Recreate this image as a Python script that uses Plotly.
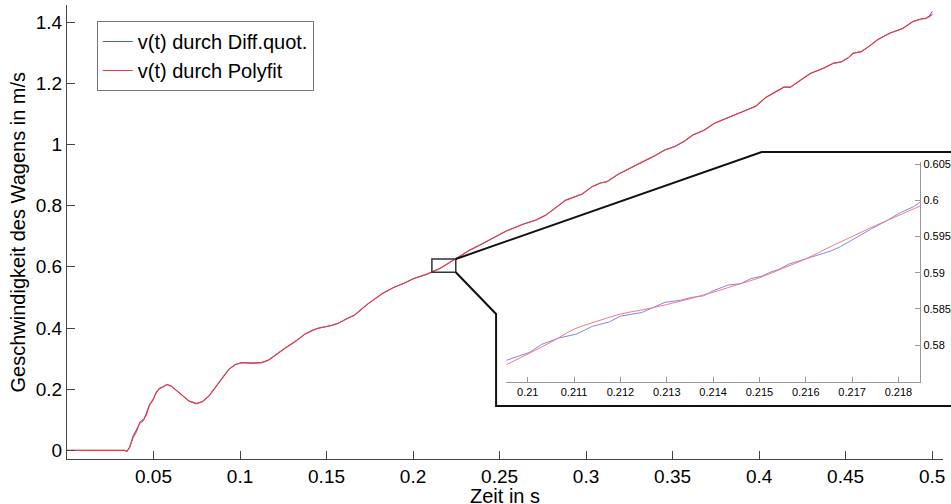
import plotly.graph_objects as go

# ---------------- data ----------------
t_main = [0.0, 0.0334, 0.0347, 0.0363, 0.0382, 0.0401, 0.0420, 0.0443, 0.0458, 0.0477,
          0.0496, 0.0515, 0.0534, 0.0557, 0.0578, 0.0601, 0.0630, 0.0668, 0.0706, 0.0748,
          0.0782, 0.0821, 0.0859, 0.0897, 0.0935, 0.0974, 0.1011, 0.1069, 0.1126, 0.1164,
          0.1203, 0.1260, 0.1317, 0.1375, 0.1422, 0.1451, 0.1527, 0.1565, 0.1623, 0.1661,
          0.1737, 0.1823, 0.1890, 0.1947, 0.2005, 0.2081, 0.2157, 0.2253, 0.2329, 0.2386,
          0.2463, 0.2539, 0.2635, 0.2711, 0.2768, 0.2825, 0.2883, 0.2978, 0.3035, 0.3083,
          0.3120, 0.3188, 0.3265, 0.3341, 0.3398, 0.3455, 0.3513, 0.3570, 0.3617, 0.3684,
          0.3742, 0.3809, 0.3866, 0.3923, 0.3981, 0.4038, 0.4095, 0.4143, 0.4181, 0.4238,
          0.4296, 0.4372, 0.4429, 0.4477, 0.4515, 0.4543, 0.4591, 0.4639, 0.4687, 0.4754,
          0.4830, 0.4887, 0.4935, 0.4963, 0.4983, 0.5002]

v_poly = [0.0, 0.0, -0.003, 0.012, 0.043, 0.061, 0.091, 0.102, 0.116, 0.148,
          0.165, 0.187, 0.203, 0.208, 0.216, 0.210, 0.197, 0.178, 0.161, 0.153,
          0.159, 0.178, 0.206, 0.236, 0.265, 0.281, 0.287, 0.285, 0.287, 0.295,
          0.312, 0.334, 0.355, 0.380, 0.393, 0.399, 0.408, 0.415, 0.432, 0.442,
          0.478, 0.513, 0.533, 0.546, 0.562, 0.576, 0.595, 0.628, 0.655, 0.671,
          0.693, 0.717, 0.739, 0.753, 0.769, 0.794, 0.818, 0.838, 0.862, 0.874,
          0.878, 0.903, 0.924, 0.947, 0.963, 0.982, 0.993, 1.011, 1.031, 1.047,
          1.069, 1.085, 1.098, 1.112, 1.125, 1.153, 1.172, 1.187, 1.187, 1.208,
          1.232, 1.249, 1.265, 1.270, 1.283, 1.298, 1.303, 1.322, 1.343, 1.363,
          1.379, 1.401, 1.410, 1.412, 1.417, 1.425]

v_diff = [0.0, 0.0, -0.003, 0.010, 0.047, 0.066, 0.088, 0.098, 0.121, 0.150,
          0.163, 0.190, 0.201, 0.209, 0.215, 0.211, 0.197, 0.178, 0.161, 0.153,
          0.159, 0.178, 0.206, 0.236, 0.265, 0.281, 0.287, 0.285, 0.287, 0.295,
          0.312, 0.334, 0.355, 0.380, 0.393, 0.399, 0.408, 0.415, 0.432, 0.442,
          0.478, 0.513, 0.533, 0.546, 0.562, 0.576, 0.595, 0.628, 0.655, 0.671,
          0.693, 0.717, 0.739, 0.753, 0.769, 0.794, 0.818, 0.838, 0.862, 0.874,
          0.878, 0.903, 0.924, 0.947, 0.963, 0.982, 0.993, 1.011, 1.031, 1.047,
          1.069, 1.085, 1.098, 1.112, 1.125, 1.153, 1.172, 1.187, 1.187, 1.208,
          1.232, 1.249, 1.265, 1.270, 1.283, 1.298, 1.303, 1.322, 1.343, 1.363,
          1.379, 1.401, 1.410, 1.412, 1.419, 1.435]

inset_t_diff = [0.20954, 0.21004, 0.2103, 0.21068, 0.21104, 0.2114, 0.21176, 0.212, 0.21246,
                0.21296, 0.2133, 0.21354, 0.21379, 0.214, 0.21432, 0.2146, 0.21482, 0.21504,
                0.21525, 0.21543, 0.21564, 0.216, 0.21625, 0.21654, 0.21675, 0.21704, 0.2174,
                0.21775, 0.21804, 0.21832, 0.2185]
inset_v_diff = [0.5779, 0.5790, 0.5801, 0.5810, 0.5815, 0.5826, 0.5832, 0.5840, 0.5845,
                0.5859, 0.5862, 0.5866, 0.5868, 0.5875, 0.5883, 0.5885, 0.5892, 0.5895,
                0.5901, 0.5905, 0.5912, 0.5919, 0.5924, 0.5930, 0.5936, 0.5947, 0.5960,
                0.5972, 0.5983, 0.5991, 0.5999]

inset_t_poly = [0.20954, 0.2105, 0.211, 0.2115, 0.212, 0.2125, 0.213, 0.2135, 0.214,
                0.2145, 0.215, 0.2155, 0.216, 0.2165, 0.217, 0.2175, 0.218, 0.2185]
inset_v_poly = [0.5773, 0.5804, 0.5822, 0.5833, 0.5843, 0.5849, 0.5856, 0.5864, 0.5873,
                0.5883, 0.5893, 0.5906, 0.5919, 0.5935, 0.5950, 0.5965, 0.5979, 0.5993]

x_ticks = [0.05, 0.1, 0.15, 0.2, 0.25, 0.3, 0.35, 0.4, 0.45, 0.5]
x_ticklabels = ["0.05", "0.1", "0.15", "0.2", "0.25", "0.3", "0.35", "0.4", "0.45", "0.5"]
y_ticks = [0, 0.2, 0.4, 0.6, 0.8, 1.0, 1.2, 1.4]
y_ticklabels = ["0", "0.2", "0.4", "0.6", "0.8", "1", "1.2", "1.4"]
ix_ticks = [0.21, 0.211, 0.212, 0.213, 0.214, 0.215, 0.216, 0.217, 0.218]
ix_ticklabels = ["0.21", "0.211", "0.212", "0.213", "0.214", "0.215", "0.216", "0.217", "0.218"]
iy_ticks = [0.58, 0.585, 0.59, 0.595, 0.6, 0.605]
iy_ticklabels = ["0.58", "0.585", "0.59", "0.595", "0.6", "0.605"]

zoom_box_t = [0.2109, 0.2247]
zoom_box_v = [0.582, 0.6255]

# ---------------- layout constants ----------------
W, H = 951, 504
ML, MR, MT, MB = 67, 0, 5, 45
PW, PH = W - ML - MR, H - MT - MB
XR = [0.0, 0.5063]
YR = [-0.0281, 1.4556]

def px2paper_x(px):
    return (px - ML) / PW

def py2paper_y(py):
    return (H - MB - py) / PH

def data2paper_x(x):
    return (x - XR[0]) / (XR[1] - XR[0])

def data2paper_y(y):
    return (y - YR[0]) / (YR[1] - YR[0])

BLUE = "#4a55e0"
RED = "#ee3a3c"
FONT = "Liberation Sans, Arial, sans-serif"

fig = go.Figure()
fig.add_trace(go.Scatter(x=t_main, y=v_diff, mode="lines", name="v(t) durch Diff.quot.",
                         line=dict(color=BLUE, width=1.0)))
fig.add_trace(go.Scatter(x=t_main, y=v_poly, mode="lines", name="v(t) durch Polyfit",
                         line=dict(color=RED, width=1.15)))
fig.add_trace(go.Scatter(x=inset_t_diff, y=inset_v_diff, mode="lines", showlegend=False,
                         line=dict(color="#7f88e6", width=1), xaxis="x2", yaxis="y2"))
fig.add_trace(go.Scatter(x=inset_t_poly, y=inset_v_poly, mode="lines", showlegend=False,
                         line=dict(color="#f57a7a", width=1, shape="spline"),
                         xaxis="x2", yaxis="y2"))

axis_common = dict(showgrid=False, zeroline=False, showline=True, linecolor="#444",
                   linewidth=1, ticks="inside", tickcolor="#444", mirror=False)

fig.update_layout(
    width=W, height=H,
    margin=dict(l=ML, r=MR, t=MT, b=MB, pad=0),
    paper_bgcolor="white", plot_bgcolor="rgba(0,0,0,0)",
    font=dict(family=FONT, size=19, color="black"),
    xaxis=dict(range=XR, tickvals=x_ticks, ticktext=x_ticklabels, ticklen=8,
               domain=[0, 1], **axis_common),
    yaxis=dict(range=YR, tickvals=y_ticks, ticktext=y_ticklabels, ticklen=8,
               domain=[0, 1], **axis_common),
    xaxis2=dict(range=[0.20953, 0.21847], tickvals=ix_ticks, ticktext=ix_ticklabels,
                domain=[px2paper_x(510), px2paper_x(928)], anchor="y2",
                showgrid=False, zeroline=False, showline=True, linecolor="#999",
                ticks="inside", ticklen=5, tickcolor="#999",
                tickfont=dict(size=11, family=FONT)),
    yaxis2=dict(range=[0.5749, 0.6053], tickvals=iy_ticks, ticktext=iy_ticklabels,
                domain=[py2paper_y(382), py2paper_y(162)], anchor="x2", side="right",
                showgrid=False, zeroline=False, showline=True, linecolor="#999",
                ticks="inside", ticklen=5, tickcolor="#999",
                tickfont=dict(size=11, family=FONT)),
    legend=dict(x=px2paper_x(97), y=py2paper_y(21), xanchor="left", yanchor="top",
                bgcolor="white", bordercolor="#777", borderwidth=1,
                font=dict(size=20, family=FONT), tracegroupgap=0),
    showlegend=True,
)

# zoom rectangle and connector lines
bx0, bx1 = data2paper_x(zoom_box_t[0]), data2paper_x(zoom_box_t[1])
by0, by1 = data2paper_y(zoom_box_v[0]), data2paper_y(zoom_box_v[1])
line_style = dict(color="#111", width=2)
fig.add_shape(type="rect", xref="x", yref="y", x0=zoom_box_t[0], x1=zoom_box_t[1],
              y0=zoom_box_v[0], y1=zoom_box_v[1], line=dict(color="#333", width=1.5))
fig.add_shape(type="path", xref="paper", yref="paper",
              path=f"M {bx1} {by1} L {px2paper_x(768)} {py2paper_y(152)} L 1.01 {py2paper_y(152)}",
              line=line_style)
fig.add_shape(type="path", xref="paper", yref="paper",
              path=(f"M {bx1} {by0} L {px2paper_x(500)} {py2paper_y(314)} "
                    f"L {px2paper_x(500)} {py2paper_y(406)} L 1.01 {py2paper_y(406)}"),
              line=line_style)

# axis titles
fig.add_annotation(text="Zeit in s", xref="paper", yref="paper", x=0.5, y=py2paper_y(483),
                   xanchor="center", yanchor="top", showarrow=False,
                   font=dict(size=20, family=FONT))
fig.add_annotation(text="Geschwindigkeit des Wagens in m/s", xref="paper", yref="paper",
                   x=px2paper_x(18), y=0.5, xanchor="center", yanchor="middle",
                   textangle=-90, showarrow=False, font=dict(size=20, family=FONT))

fig.write_html("out.html")
